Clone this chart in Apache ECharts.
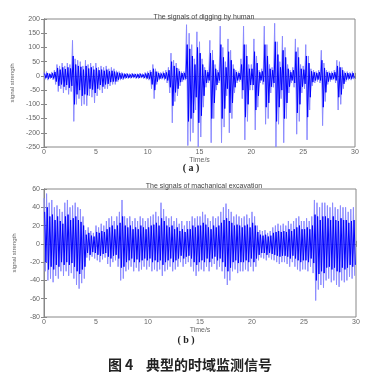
<!DOCTYPE html>
<html><head><meta charset="utf-8">
<script src="https://cdn.jsdelivr.net/npm/echarts@6/dist/echarts.min.js"></script>
<style>html,body{margin:0;padding:0;background:#fff}#c{width:373px;height:378px}</style>
</head><body><div id="c"></div>
<script>
// time step of the envelope bins (s)
var binStep = 0.25;
var xTicks = [0, 5, 10, 15, 20, 25, 30];
// (a) digging by human: per-bin outer extremes (light trace)
var digHi = [12,15,10,14, 20,40,35,45, 35,45,40,125, 60,55,50,35, 55,40,45,35,
  45,30,35,30, 35,25,30,25, 18,15,12,10, 10,8,10,8, 8,10,8,12,
  15,20,40,25, 15,12,15,20, 30,80,55,45, 25,15,15,180, 150,110,60,155,
  120,60,30,20, 125,90,40,20, 175,100,50,130, 90,40,20,15, 60,175,110,40,
  40,130,70,20, 25,175,110,40, 30,185,120,50, 140,100,40,20, 30,130,100,40,
  35,110,70,25, 20,15,20,90, 45,20,15,15, 20,55,50,30, 15,15,12,15];
var digLo = [-12,-15,-10,-14, -30,-55,-45,-60, -50,-65,-55,-160, -100,-80,-105,-100, -105,-70,-75,-95,
  -70,-50,-60,-45, -45,-35,-30,-30, -20,-15,-14,-10, -10,-9,-8,-10, -10,-8,-10,-12,
  -15,-45,-80,-30, -15,-12,-15,-25, -60,-165,-90,-70, -35,-20,-15,-245, -230,-200,-120,-250,
  -215,-110,-40,-25, -235,-150,-50,-25, -235,-180,-70,-200, -150,-60,-25,-20, -80,-225,-160,-50,
  -50,-190,-110,-25, -30,-170,-150,-60, -40,-250,-170,-80, -235,-150,-60,-25, -40,-205,-160,-60,
  -45,-225,-120,-35, -25,-20,-25,-175, -90,-30,-20,-15, -25,-120,-100,-45, -20,-15,-15,-12];
// (a) dark core of the trace
var digCoreHi = [8,10,7,9, 14,28,22,30, 24,30,26,70, 40,35,32,22, 35,26,30,22,
  28,20,22,18, 22,16,18,15, 12,10,8,7, 7,5,7,6, 6,7,5,8,
  10,14,25,15, 10,8,10,12, 20,50,35,28, 16,10,10,110, 95,70,40,100,
  80,40,20,13, 80,55,25,12, 110,65,30,85, 55,25,13,10, 40,110,70,25,
  25,85,45,13, 16,110,70,25, 20,120,75,30, 90,65,25,13, 20,85,65,25,
  22,70,45,16, 13,10,13,55, 28,13,10,10, 13,35,30,20, 10,10,8,10];
var digCoreLo = [-8,-10,-7,-9, -20,-35,-30,-38, -32,-42,-35,-100, -65,-50,-70,-65, -68,-45,-48,-60,
  -45,-32,-38,-30, -28,-22,-20,-20, -13,-10,-9,-7, -7,-6,-5,-7, -7,-5,-7,-8,
  -10,-30,-50,-20, -10,-8,-10,-16, -40,-105,-58,-45, -22,-13,-10,-160, -150,-130,-75,-165,
  -140,-70,-25,-16, -150,-95,-32,-16, -150,-115,-45,-130, -95,-40,-16,-13, -50,-145,-100,-32,
  -32,-120,-70,-16, -20,-110,-95,-38, -25,-160,-110,-50, -150,-95,-38,-16, -25,-130,-100,-38,
  -28,-145,-75,-22, -16,-13,-16,-110, -58,-20,-13,-10, -16,-75,-65,-28, -13,-10,-10,-8];
// (b) mechanical excavation: outer extremes
var excHi = [50,55,45,48, 40,42,38,35, 45,48,40,42, 45,40,38,30, 15,18,14,12,
  20,18,22,20, 25,28,30,25, 30,35,48,30, 28,30,25,28, 25,30,28,25,
  28,30,32,35, 30,45,38,30, 28,30,25,28, 22,25,20,25, 25,30,28,30,
  30,35,32,28, 25,30,28,30, 35,40,44,38, 35,30,32,30, 28,30,32,28,
  35,30,20,15, 14,15,12,14, 18,20,22,20, 22,20,25,22, 25,28,30,25,
  25,28,25,30, 48,45,40,45, 45,42,40,45, 40,38,42,40, 40,35,38,40];
var excLo = [-30,-40,-38,-42, -35,-38,-30,-35, -30,-35,-32,-38, -45,-49,-43,-38, -15,-18,-14,-16,
  -18,-20,-17,-15, -22,-25,-20,-18, -25,-40,-38,-30, -28,-25,-30,-26, -30,-28,-25,-28,
  -25,-30,-28,-30, -28,-35,-30,-28, -25,-30,-28,-25, -20,-25,-22,-20, -25,-30,-35,-30,
  -28,-30,-25,-30, -25,-22,-28,-25, -30,-38,-45,-40, -30,-28,-32,-30, -30,-28,-30,-25,
  -30,-25,-18,-15, -16,-18,-15,-17, -18,-20,-22,-20, -20,-22,-25,-20, -25,-28,-30,-28,
  -28,-30,-25,-32, -62,-50,-45,-48, -40,-38,-42,-40, -45,-47,-40,-42, -40,-36,-38,-35];
// (b) dark core
var excCoreHi = [35,40,30,32, 26,30,25,22, 30,32,26,28, 30,26,24,20, 10,12,9,8,
  13,12,14,13, 16,18,20,16, 20,23,30,20, 18,20,16,18, 16,20,18,16,
  18,20,21,23, 20,28,25,20, 18,20,16,18, 14,16,13,16, 16,20,18,20,
  20,23,21,18, 16,20,18,20, 23,26,28,25, 23,20,21,20, 18,20,21,18,
  23,20,13,10, 9,10,8,9, 12,13,14,13, 14,13,16,14, 16,18,20,16,
  16,18,16,20, 32,30,26,30, 30,28,26,30, 26,25,28,26, 26,23,25,26];
var excCoreLo = [-20,-28,-25,-28, -23,-25,-20,-23, -20,-23,-21,-25, -30,-33,-28,-25, -10,-12,-9,-10,
  -12,-13,-11,-10, -14,-16,-13,-12, -16,-26,-25,-20, -18,-16,-20,-17, -20,-18,-16,-18,
  -16,-20,-18,-20, -18,-23,-20,-18, -16,-20,-18,-16, -13,-16,-14,-13, -16,-20,-23,-20,
  -18,-20,-16,-20, -16,-14,-18,-16, -20,-25,-30,-26, -20,-18,-21,-20, -20,-18,-20,-16,
  -20,-16,-12,-10, -10,-12,-10,-11, -12,-13,-14,-13, -13,-14,-16,-13, -16,-18,-20,-18,
  -18,-20,-16,-21, -40,-33,-30,-32, -26,-25,-28,-26, -30,-31,-26,-28, -26,-23,-25,-23];

function zig(hi, lo, phase) {
  var out = [];
  for (var i = 0; i < hi.length; i++) {
    out.push([i * binStep + phase, hi[i]]);
    out.push([i * binStep + phase + binStep / 2, lo[i]]);
  }
  return out;
}
var gray = '#666';
var lab = {color: gray, fontSize: 7, fontFamily: 'Liberation Sans'};
function xAx(gi, show) {
  return {type: 'value', gridIndex: gi, min: 0, max: 30, interval: 5, position: show ? 'bottom' : 'top',
    axisLine: {lineStyle: {color: '#888', width: 1}}, axisTick: {inside: true, length: 3, lineStyle: {color: '#888'}},
    axisLabel: show ? Object.assign({margin: 2}, lab) : {show: false}, splitLine: {show: false},
    name: show ? 'Time/s' : '', nameLocation: 'middle', nameGap: 8,
    nameTextStyle: {color: gray, fontSize: 7, fontFamily: 'Liberation Sans'}};
}
function yAx(gi, mn, mx, iv, show) {
  return {type: 'value', gridIndex: gi, min: mn, max: mx, interval: iv, position: show ? 'left' : 'right',
    axisLine: {show: true, lineStyle: {color: '#888', width: 1}}, axisTick: {show: true, inside: true, length: 3, lineStyle: {color: '#888'}},
    axisLabel: show ? Object.assign({margin: 4}, lab) : {show: false}, splitLine: {show: false},
    name: show ? 'signal strength' : '', nameLocation: 'middle', nameGap: 27, nameRotate: 90,
    nameTextStyle: {color: gray, fontSize: 6, fontFamily: 'Liberation Sans Narrow, Liberation Sans'}};
}
function sig(xi, yi, data, color) {
  return {type: 'line', xAxisIndex: xi, yAxisIndex: yi, data: data, showSymbol: false,
    lineStyle: {color: color, width: 1}, z: color === '#0000ff' ? 3 : 2};
}
var chart = echarts.init(document.getElementById('c'), null, {renderer: 'canvas'});
chart.setOption({
  animation: false,
  title: [
    {text: 'The signals of digging by human', left: 199, top: 9, textAlign: 'center',
     textStyle: {fontSize: 7, fontWeight: 'normal', color: '#444', fontFamily: 'Liberation Sans'}},
    {text: 'The signals of machanical excavation', left: 199, top: 178, textAlign: 'center',
     textStyle: {fontSize: 7, fontWeight: 'normal', color: '#444', fontFamily: 'Liberation Sans'}},
    {text: '( a )', left: 186, top: 158, textAlign: 'center',
     textStyle: {fontSize: 10, fontWeight: 'bold', color: '#222', fontFamily: 'Liberation Serif'}},
    {text: '( b )', left: 181, top: 330, textAlign: 'center',
     textStyle: {fontSize: 10, fontWeight: 'bold', color: '#222', fontFamily: 'Liberation Serif'}},
    {text: '图 4    典型的时域监测信号', left: 185, top: 353, textAlign: 'center',
     textStyle: {fontSize: 14, fontWeight: 'bold', color: '#222', fontFamily: 'Noto Sans CJK SC'}}
  ],
  grid: [
    {left: 44, right: 18, top: 19, height: 128, show: true, borderColor: '#888', borderWidth: 1},
    {left: 44, right: 17, top: 189, height: 128, show: true, borderColor: '#888', borderWidth: 1}
  ],
  xAxis: [xAx(0, true), xAx(0, false), xAx(1, true), xAx(1, false)],
  yAxis: [yAx(0, -250, 200, 50, true), yAx(0, -250, 200, 50, false), yAx(1, -80, 60, 20, true), yAx(1, -80, 60, 20, false)],
  series: [
    sig(0, 0, zig(digHi, digLo, 0), '#8a8aff'),
    sig(0, 0, zig(digCoreHi, digCoreLo, 0.0625), '#0000ff'),
    sig(2, 2, zig(excHi, excLo, 0), '#8a8aff'),
    sig(2, 2, zig(excCoreHi, excCoreLo, 0.0625), '#0000ff')
  ]
});
</script></body></html>
